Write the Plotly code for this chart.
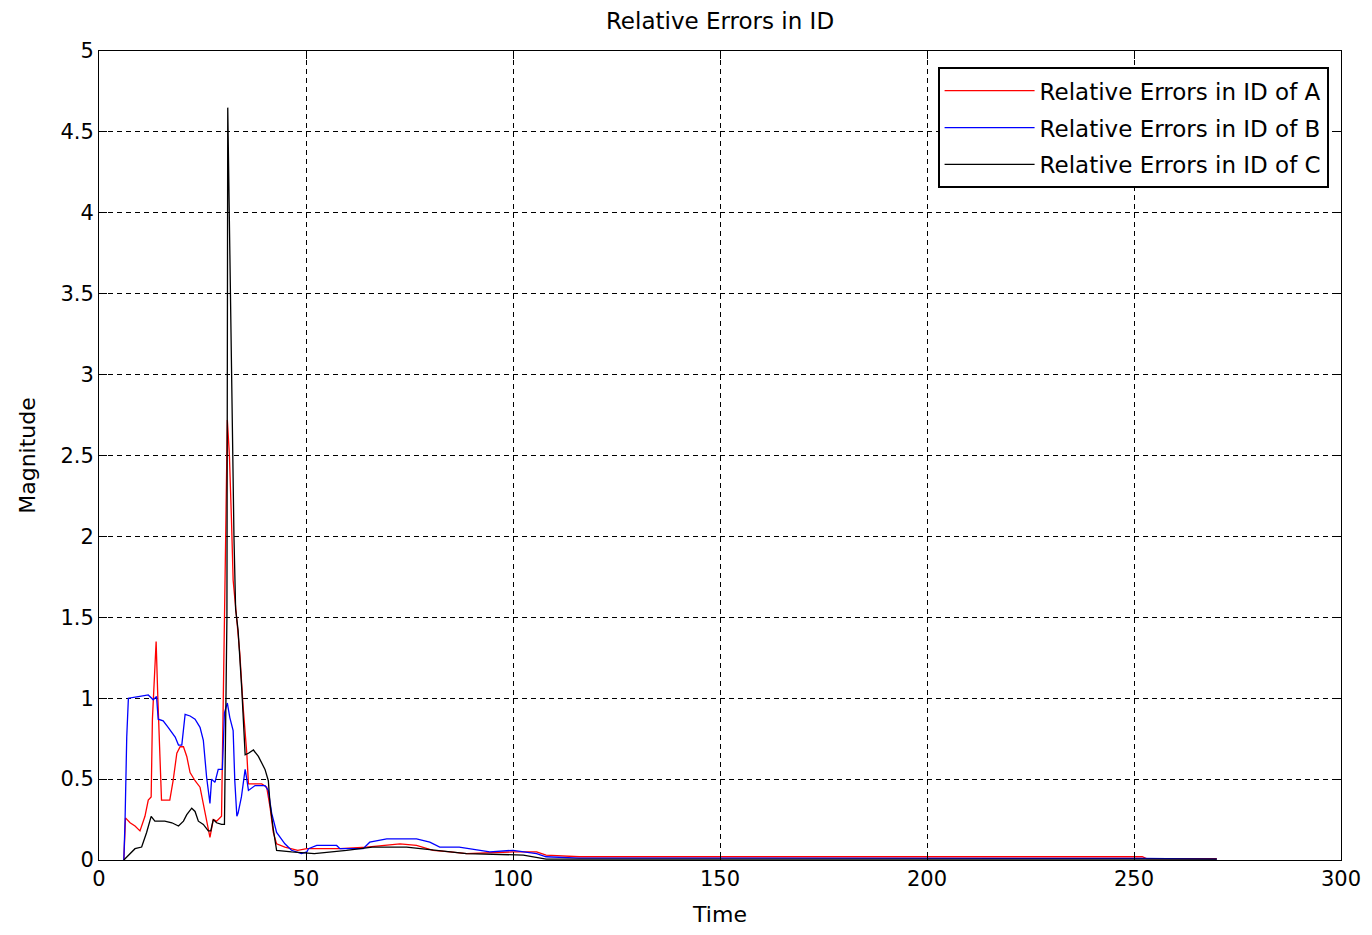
import plotly.graph_objects as go

# ---- data ----
time_a = [6.0, 6.4, 7.5, 8.7, 9.9, 11.1, 11.9, 12.6, 12.9, 13.5, 13.8, 14.2, 14.7, 15.1, 17.1, 17.9,
          18.8, 19.6, 20.4, 21.2, 22.0, 23.2, 24.4, 25.2, 26.0, 26.8, 27.6, 28.4, 29.6, 30.1, 30.6,
          31.0, 31.5, 32.0, 32.4, 33.3, 34.0, 34.8, 35.7, 36.1, 39.3, 40.5, 41.3, 42.1, 42.9, 44.9,
          48.0, 50.2, 58.2, 64.6, 72.7, 76.7, 80.7, 84.8, 88.8, 100, 105.7, 108, 116, 150, 195, 252,
          253, 270]
err_a = [0.0, 0.26, 0.23, 0.21, 0.18, 0.27, 0.37, 0.39, 0.87, 1.15, 1.35, 1.01, 0.62, 0.37, 0.37, 0.49,
         0.66, 0.70, 0.70, 0.64, 0.54, 0.49, 0.45, 0.35, 0.25, 0.14, 0.25, 0.24, 0.27, 1.01, 2.0,
         2.72, 2.5, 2.1, 1.73, 1.48, 1.28, 0.95, 0.66, 0.47, 0.47, 0.45, 0.33, 0.17, 0.10, 0.08,
         0.06, 0.07, 0.07, 0.08, 0.10, 0.09, 0.06, 0.05, 0.04, 0.05, 0.05, 0.03, 0.02, 0.02, 0.02, 0.02,
         0.008, 0.008]

time_b = [6.0, 6.3, 6.7, 7.1, 9.5, 11.9, 13.1, 13.9, 14.3, 15.5, 16.7, 18.4, 19.2, 20.0, 20.8, 22.0,
          23.2, 24.4, 25.2, 26.0, 26.8, 27.2, 28.0, 28.8, 29.8, 30.3, 31.0, 31.6, 32.4, 32.8, 33.3,
          33.6, 34.4, 35.3, 35.7, 36.1, 37.7, 40.1, 40.9, 41.7, 42.9, 44.9, 46.5, 48.9, 50.2, 50.6,
          52.6, 57.4, 58.2, 63.8, 65.4, 69.5, 76.7, 79.9, 82.3, 87, 94.4, 100, 105.7, 108, 116, 150,
          180, 195, 252, 270]
err_b = [0.0, 0.25, 0.76, 1.0, 1.01, 1.02, 0.99, 1.01, 0.87, 0.86, 0.82, 0.76, 0.71, 0.71, 0.90, 0.89,
         0.87, 0.82, 0.74, 0.51, 0.35, 0.50, 0.48, 0.56, 0.56, 0.91, 0.97, 0.88, 0.80, 0.49, 0.27,
         0.29, 0.39, 0.56, 0.50, 0.43, 0.46, 0.46, 0.43, 0.29, 0.17, 0.10, 0.06, 0.04, 0.05, 0.07,
         0.09, 0.09, 0.07, 0.07, 0.11, 0.13, 0.13, 0.11, 0.08, 0.08, 0.05, 0.06, 0.04, 0.02, 0.012, 0.012,
         0.012, 0.01, 0.01, 0.005]

time_c = [6.0, 7.1, 8.7, 10.3, 11.5, 12.6, 13.5, 15.9, 17.6, 19.2, 20.4, 21.2, 22.4, 23.2, 24.0, 25.2,
          26.4, 27.0, 27.6, 28.4, 29.6, 30.3, 30.9, 31.1, 31.4, 31.6, 32.0, 32.3, 32.6, 33.0, 33.6,
          34.5, 35.3, 36.1, 37.3, 38.5, 40.1, 40.9, 41.3, 42.1, 42.9, 46.5, 52, 59.8, 66, 74.3, 78.3,
          84.8, 88.8, 102.5, 108, 270]
err_c = [0.0, 0.03, 0.07, 0.08, 0.17, 0.27, 0.24, 0.24, 0.23, 0.21, 0.24, 0.28, 0.32, 0.30, 0.24, 0.22,
         0.18, 0.18, 0.25, 0.23, 0.22, 0.22, 1.5, 4.65, 4.14, 3.58, 3.14, 2.6, 2.0, 1.55, 1.42,
         1.05, 0.65, 0.66, 0.68, 0.64, 0.56, 0.49, 0.35, 0.19, 0.06, 0.05, 0.04, 0.06, 0.08, 0.08, 0.07,
         0.05, 0.04, 0.03, 0.005, 0.005]

series_names = ["Relative Errors in ID of A", "Relative Errors in ID of B", "Relative Errors in ID of C"]
series_colors = ["#ff0000", "#0000ff", "#000000"]

x_ticks = [0, 50, 100, 150, 200, 250, 300]
y_ticks = [0, 0.5, 1, 1.5, 2, 2.5, 3, 3.5, 4, 4.5, 5]
y_tick_text = ["0", "0.5", "1", "1.5", "2", "2.5", "3", "3.5", "4", "4.5", "5"]

FONT = "DejaVu Sans"

fig = go.Figure()
for i, (xs, ys, name, col) in enumerate(zip([time_a, time_b, time_c], [err_a, err_b, err_c],
                                            series_names, series_colors)):
    fig.add_trace(go.Scatter(x=xs, y=ys, mode="lines", name=name, legendgroup=f"g{i}",
                             line=dict(color=col, width=1.3)))

axis_common = dict(
    showline=True, linecolor="black", linewidth=1, mirror="ticks",
    ticks="inside", ticklen=8, tickcolor="black",
    showgrid=True, gridcolor="black", gridwidth=1, griddash="5px,4px",
    zeroline=False, tickfont=dict(family=FONT, size=21, color="black"),
)

fig.update_layout(
    width=1372, height=935,
    margin=dict(l=99, r=31, t=51, b=75),
    paper_bgcolor="white", plot_bgcolor="white",
    title=dict(text="Relative Errors in ID", x=0.5248, xanchor="center", y=0.978, yanchor="middle",
               font=dict(family=FONT, size=23, color="black")),
    xaxis=dict(range=[0, 300], tickvals=x_ticks, ticktext=[str(v) for v in x_ticks],
               title=dict(text="Time", font=dict(family=FONT, size=22, color="black"), standoff=16),
               **axis_common),
    yaxis=dict(range=[0, 5], tickvals=y_ticks, ticktext=y_tick_text,
               title=dict(text="Magnitude", font=dict(family=FONT, size=22, color="black"), standoff=18),
               **axis_common),
    legend=dict(x=0.990, y=0.980, xanchor="right", yanchor="top",
                bgcolor="white", bordercolor="black", borderwidth=2,
                font=dict(family=FONT, size=23, color="black"),
                itemwidth=90, traceorder="grouped", tracegroupgap=4),
    showlegend=True,
)

fig.write_html("out.html")
